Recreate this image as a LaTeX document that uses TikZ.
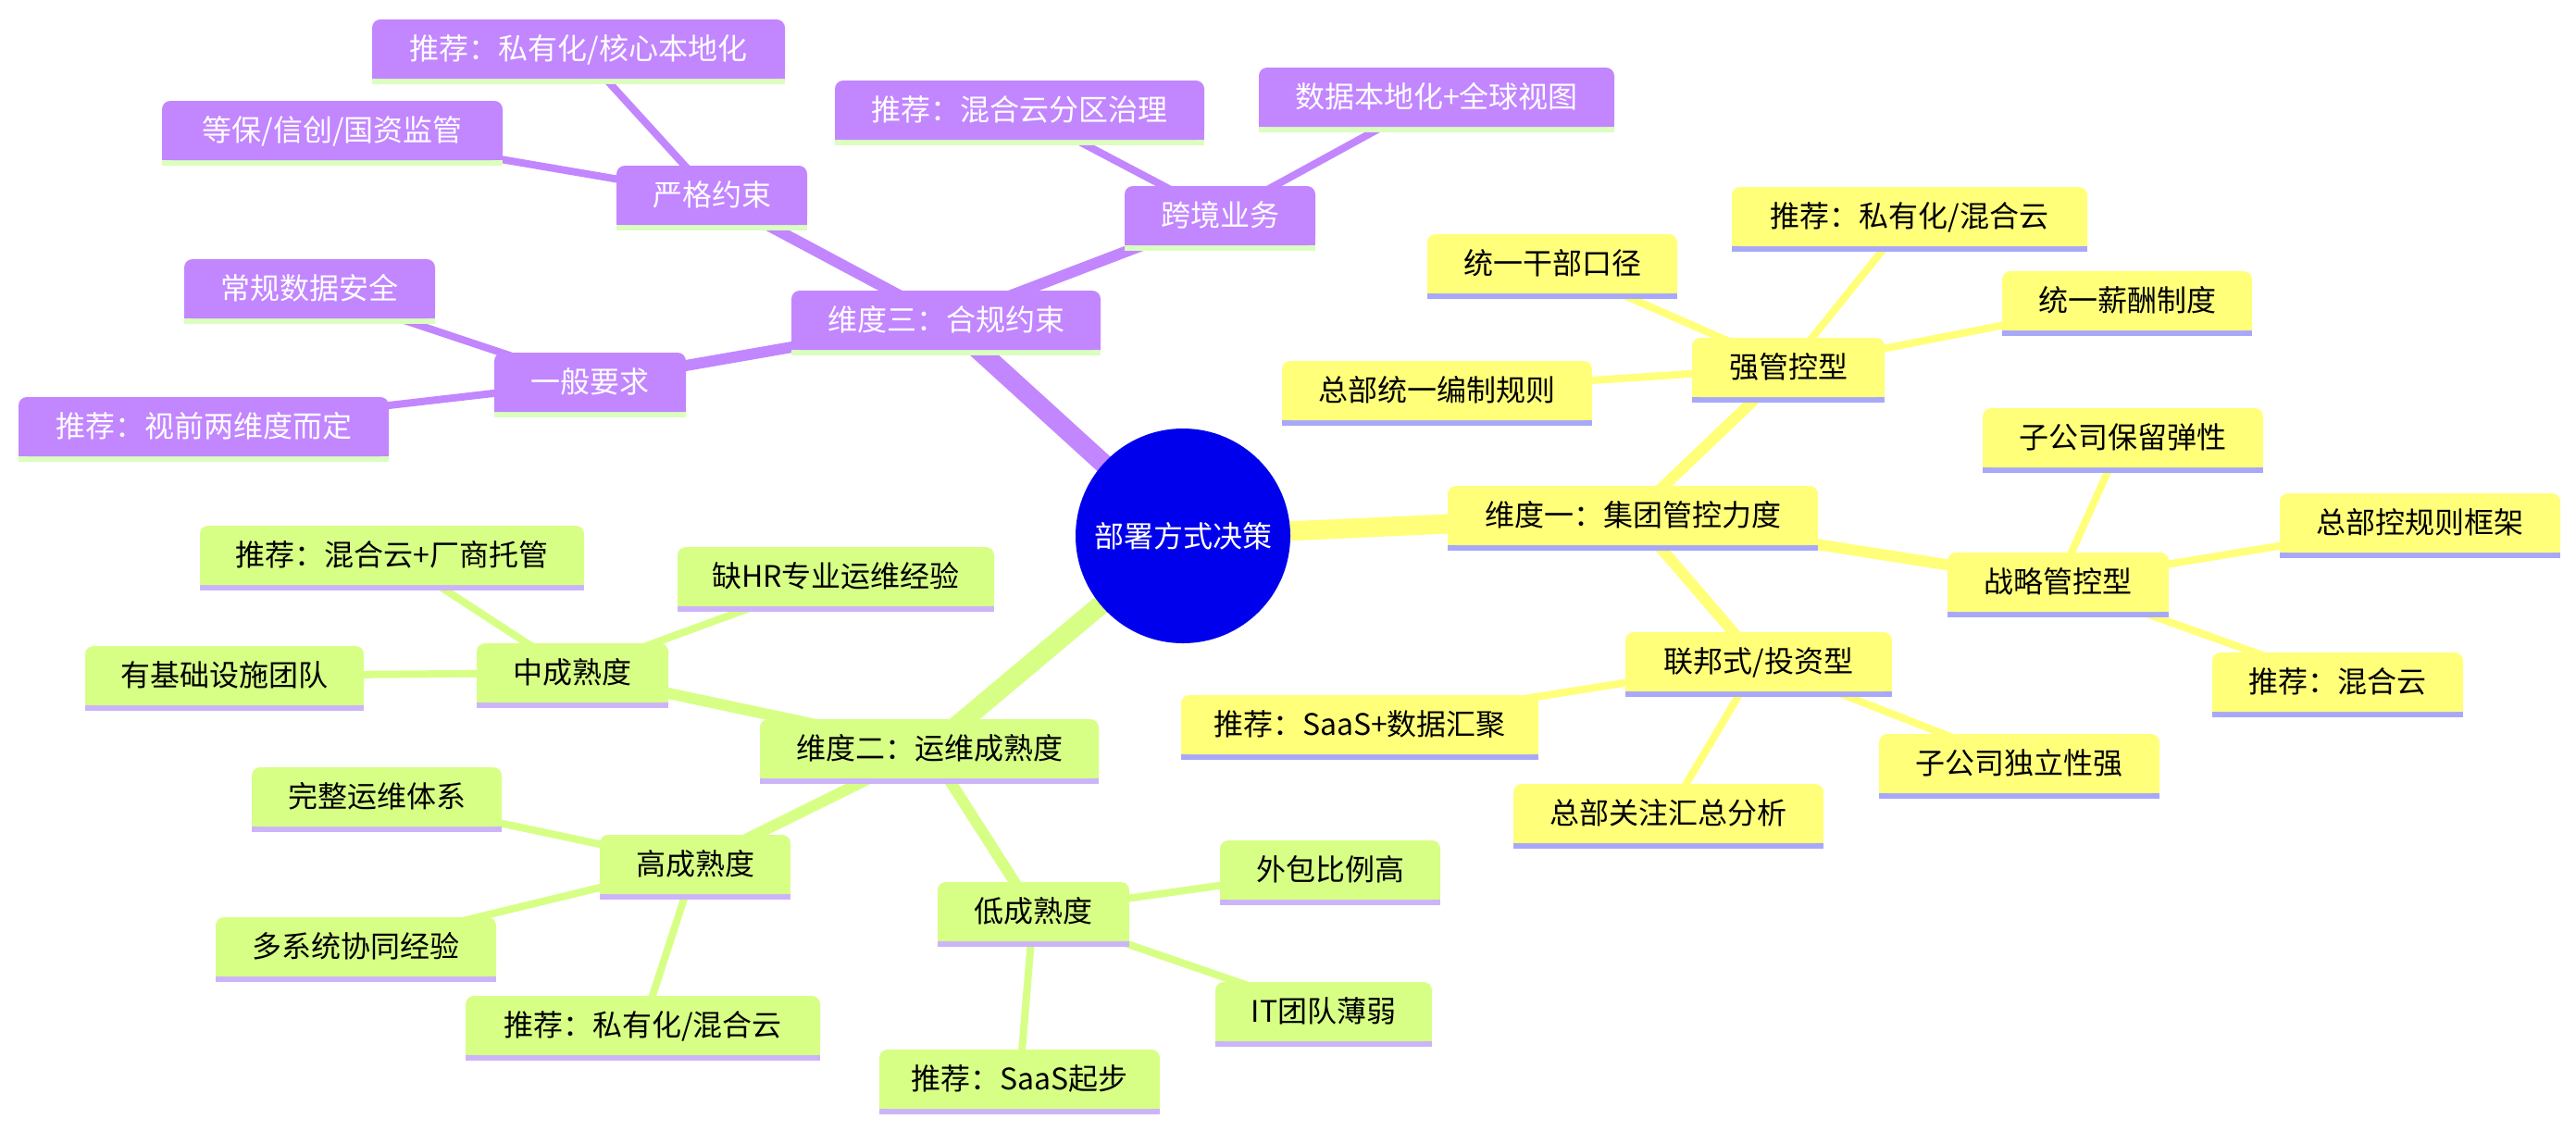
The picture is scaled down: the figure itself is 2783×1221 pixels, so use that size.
\documentclass[tikz,border=0pt]{standalone}
\usepackage{fontspec}
\newfontfamily\cjk{Noto Sans CJK SC}
\usetikzlibrary{backgrounds}
\definecolor{rootblue}{RGB}{0,0,236}
\definecolor{yel}{RGB}{255,255,122}
\definecolor{yelline}{RGB}{168,168,250}
\definecolor{grn}{RGB}{215,255,134}
\definecolor{grnline}{RGB}{204,180,250}
\definecolor{pur}{RGB}{194,134,255}
\definecolor{purline}{RGB}{218,255,190}
\tikzset{
  mm/.style n args={3}{rectangle, rounded corners=9pt, fill=#1, text=#3,
    inner sep=0pt, outer sep=0pt, minimum height=64pt,
    text height=26pt, text depth=2.5pt,
    font=\cjk\fontsize{32}{38}\selectfont,
    append after command={\pgfextra{%
      \fill[#1, sharp corners] (\tikzlastnode.south west) rectangle ([xshift=12pt,yshift=12pt]\tikzlastnode.south west);
      \fill[#1, sharp corners] (\tikzlastnode.south east) rectangle ([xshift=-12pt,yshift=12pt]\tikzlastnode.south east);
      \fill[#2, sharp corners] (\tikzlastnode.south west) rectangle ([yshift=-6pt]\tikzlastnode.south east);
    }}},
  ybox/.style={mm={yel}{yelline}{black}},
  gbox/.style={mm={grn}{grnline}{black}},
  pbox/.style={mm={pur}{purline}{white}},
  rootnode/.style={circle, fill=rootblue, minimum size=232pt, inner sep=0pt,
    text=white, font=\cjk\fontsize{32}{38}\selectfont},
  dzero/.style={line width=21pt},
  done/.style={line width=12pt},
  dtwo/.style={line width=8pt},
}
\begin{document}
\begin{tikzpicture}[x=1pt,y=-1pt]
\useasboundingbox (0,0) rectangle (2783,1221);
\node[rootnode] (root) at (1278,579) {部署方式决策};
% yellow branch
\node[ybox, minimum width=400pt] (y0) at (1764,557) {维度一：集团管控力度};
\node[ybox, minimum width=208pt] (ya) at (1932,397) {强管控型};
\node[ybox, minimum width=384pt] (ya1) at (2063,234) {推荐：私有化/混合云};
\node[ybox, minimum width=270pt] (ya2) at (1677,285) {统一干部口径};
\node[ybox, minimum width=270pt] (ya3) at (2298,325) {统一薪酬制度};
\node[ybox, minimum width=335pt] (ya4) at (1552.5,422) {总部统一编制规则};
\node[ybox, minimum width=239pt] (yb) at (2223.5,629) {战略管控型};
\node[ybox, minimum width=303pt] (yb1) at (2293.5,473) {子公司保留弹性};
\node[ybox, minimum width=303pt] (yb2) at (2614.5,565) {总部控规则框架};
\node[ybox, minimum width=271pt] (yb3) at (2525.5,737) {推荐：混合云};
\node[ybox, minimum width=288pt] (yc) at (1900,715) {联邦式/投资型};
\node[ybox, minimum width=386pt] (yc1) at (1469,783) {推荐：SaaS+数据汇聚};
\node[ybox, minimum width=303pt] (yc2) at (2181.5,825) {子公司独立性强};
\node[ybox, minimum width=335pt] (yc3) at (1802.5,879) {总部关注汇总分析};
% green branch
\node[gbox, minimum width=366pt] (g0) at (1004,809) {维度二：运维成熟度};
\node[gbox, minimum width=207pt] (ga) at (618.5,727) {中成熟度};
\node[gbox, minimum width=415pt] (ga1) at (423.5,600) {推荐：混合云+厂商托管};
\node[gbox, minimum width=342pt] (ga2) at (903,623) {缺HR专业运维经验};
\node[gbox, minimum width=301pt] (ga3) at (242.5,730) {有基础设施团队};
\node[gbox, minimum width=206pt] (gb) at (751,934) {高成熟度};
\node[gbox, minimum width=270pt] (gb1) at (407,861) {完整运维体系};
\node[gbox, minimum width=303pt] (gb2) at (384.5,1023) {多系统协同经验};
\node[gbox, minimum width=383pt] (gb3) at (694.5,1108) {推荐：私有化/混合云};
\node[gbox, minimum width=207pt] (gc) at (1116.5,985) {低成熟度};
\node[gbox, minimum width=238pt] (gc1) at (1437,940) {外包比例高};
\node[gbox, minimum width=234pt] (gc2) at (1430,1093) {IT团队薄弱};
\node[gbox, minimum width=303pt] (gc3) at (1101.5,1166) {推荐：SaaS起步};
% purple branch
\node[pbox, minimum width=334pt] (p0) at (1022,346) {维度三：合规约束};
\node[pbox, minimum width=206pt] (pa) at (769,211) {严格约束};
\node[pbox, minimum width=446pt] (pa1) at (625,53) {推荐：私有化/核心本地化};
\node[pbox, minimum width=368pt] (pa2) at (359,141) {等保/信创/国资监管};
\node[pbox, minimum width=207pt] (pb) at (637.5,413) {一般要求};
\node[pbox, minimum width=271pt] (pb1) at (334.5,312) {常规数据安全};
\node[pbox, minimum width=400pt] (pb2) at (220,461) {推荐：视前两维度而定};
\node[pbox, minimum width=206pt] (pc) at (1318,233) {跨境业务};
\node[pbox, minimum width=399pt] (pc1) at (1101.5,119) {推荐：混合云分区治理};
\node[pbox, minimum width=384pt] (pc2) at (1552,105) {数据本地化+全球视图};
\begin{pgfonlayer}{background}
\fill[white] (0,0) rectangle (2783,1221);
% root edges
\draw[yel, dzero] (root.center) -- (y0.center);
\draw[grn, dzero] (root.center) -- (g0.center);
\draw[pur, dzero] (root.center) -- (p0.center);
% yellow
\draw[yel, done] (y0.center) -- (ya.center);
\draw[yel, done] (y0.center) -- (yb.center);
\draw[yel, done] (y0.center) -- (yc.center);
\draw[yel, dtwo] (ya.center) -- (ya1.center);
\draw[yel, dtwo] (ya.center) -- (ya2.center);
\draw[yel, dtwo] (ya.center) -- (ya3.center);
\draw[yel, dtwo] (ya.center) -- (ya4.center);
\draw[yel, dtwo] (yb.center) -- (yb1.center);
\draw[yel, dtwo] (yb.center) -- (yb2.center);
\draw[yel, dtwo] (yb.center) -- (yb3.center);
\draw[yel, dtwo] (yc.center) -- (yc1.center);
\draw[yel, dtwo] (yc.center) -- (yc2.center);
\draw[yel, dtwo] (yc.center) -- (yc3.center);
% green
\draw[grn, done] (g0.center) -- (ga.center);
\draw[grn, done] (g0.center) -- (gb.center);
\draw[grn, done] (g0.center) -- (gc.center);
\draw[grn, dtwo] (ga.center) -- (ga1.center);
\draw[grn, dtwo] (ga.center) -- (ga2.center);
\draw[grn, dtwo] (ga.center) -- (ga3.center);
\draw[grn, dtwo] (gb.center) -- (gb1.center);
\draw[grn, dtwo] (gb.center) -- (gb2.center);
\draw[grn, dtwo] (gb.center) -- (gb3.center);
\draw[grn, dtwo] (gc.center) -- (gc1.center);
\draw[grn, dtwo] (gc.center) -- (gc2.center);
\draw[grn, dtwo] (gc.center) -- (gc3.center);
% purple
\draw[pur, done] (p0.center) -- (pa.center);
\draw[pur, done] (p0.center) -- (pb.center);
\draw[pur, done] (p0.center) -- (pc.center);
\draw[pur, dtwo] (pa.center) -- (pa1.center);
\draw[pur, dtwo] (pa.center) -- (pa2.center);
\draw[pur, dtwo] (pb.center) -- (pb1.center);
\draw[pur, dtwo] (pb.center) -- (pb2.center);
\draw[pur, dtwo] (pc.center) -- (pc1.center);
\draw[pur, dtwo] (pc.center) -- (pc2.center);
\end{pgfonlayer}
\end{tikzpicture}
\end{document}
